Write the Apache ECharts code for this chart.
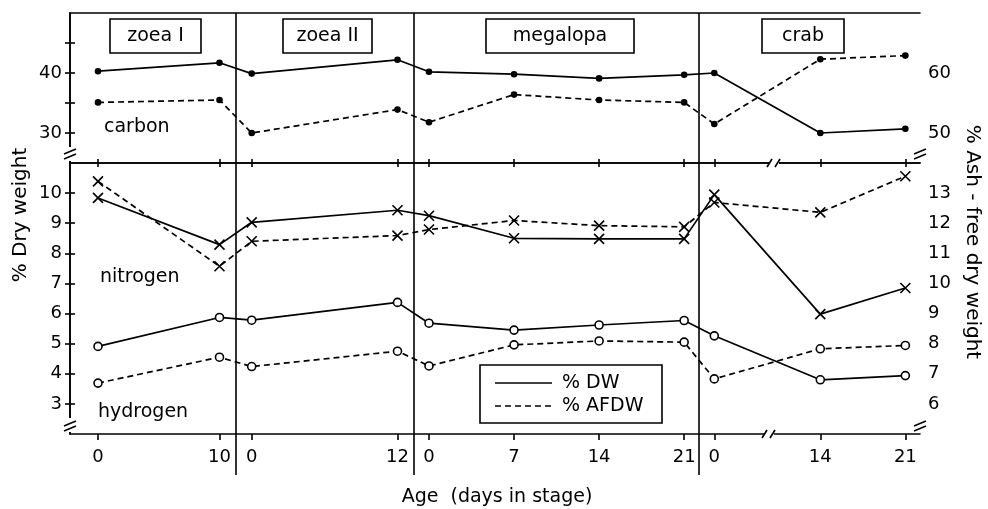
<!DOCTYPE html>
<html><head><meta charset="utf-8">
<script src="https://cdn.jsdelivr.net/npm/echarts@6/dist/echarts.min.js"></script>
<style>html,body{margin:0;padding:0;background:#fff}#c{width:988px;height:509px}</style>
</head><body><div id="c"></div>
<script>
// ---- data ----
const stages = ['zoea I', 'zoea II', 'megalopa', 'crab'];
const stageDays = [[0, 10], [0, 12], [0, 7, 14, 21], [0, 14, 21]];
const carbonDW = [40.3, 41.7, 39.9, 42.2, 40.2, 39.8, 39.1, 39.7, 40.0, 30.0, 30.7];
const carbonAFDW = [55.1, 55.5, 50.0, 53.9, 51.8, 56.4, 55.5, 55.1, 51.5, 62.3, 62.9];
const nitrogenDW = [9.84, 8.29, 9.03, 9.43, 9.25, 8.50, 8.48, 8.48, 9.95, 5.98, 6.85];
const nitrogenAFDW = [13.39, 10.57, 11.40, 11.59, 11.79, 12.09, 11.92, 11.88, 12.69, 12.36, 13.56];
const hydrogenDW = [4.91, 5.87, 5.78, 6.37, 5.68, 5.45, 5.62, 5.77, 5.26, 3.80, 3.94];
const hydrogenAFDW = [6.69, 7.55, 7.24, 7.75, 7.26, 7.96, 8.09, 8.05, 6.83, 7.83, 7.94];
const carbonDWTicks = [30, 40];
const carbonDWMinor = [30, 35, 40, 45];
const carbonAFDWTicks = [50, 60];
const carbonAFDWMinor = [50, 55, 60, 65];
const lowerDWTicks = [3, 4, 5, 6, 7, 8, 9, 10];
const lowerAFDWTicks = [6, 7, 8, 9, 10, 11, 12, 13];
const xTitle = 'Age  (days in stage)';
const leftTitle = '% Dry weight';
const rightTitle = '% Ash - free dry weight';
const legendNames = ['% DW', '% AFDW'];
const panelNames = ['carbon', 'nitrogen', 'hydrogen'];

// ---- x-axis layout (broken, staged axis) ----
const X_MAX = 850;
const stageStart = [28, 181.7, 359, 644.3];
const PX_PER_DAY = 12.15;
const CRAB_BREAK = { stage: 3, day: 14, len: 106 };
const dividers = [166, 344, 629];
const boxCenters = [85.5, 257.5, 490, 733];
const boxWidths = [91, 89, 148, 82];
function pos(s, d) {
  if (s === CRAB_BREAK.stage && d >= CRAB_BREAK.day) return stageStart[s] + CRAB_BREAK.len + (d - CRAB_BREAK.day) * PX_PER_DAY;
  return stageStart[s] + d * PX_PER_DAY;
}
const xs = [];
const xLabels = [];
stageDays.forEach((days, s) => days.forEach(d => { xs.push(pos(s, d)); xLabels.push(String(d)); }));
const pts = arr => xs.map((x, i) => [x, arr[i]]);

const FONT = '"DejaVu Sans", sans-serif';
const BLK = '#000';
const LW = 1.6;
const axisLine = { show: true, lineStyle: { color: BLK, width: LW } };

function yAx(grid, posn, min, max, ticks, labels) {
  return {
    type: 'value', gridIndex: grid, position: posn, min: min, max: max,
    axisLine: axisLine,
    axisTick: { show: true, length: 5, lineStyle: { color: BLK, width: LW }, customValues: ticks },
    axisLabel: { color: BLK, fontSize: 18, fontFamily: FONT, margin: 8, customValues: labels },
    splitLine: { show: false }
  };
}
const xBase = { type: 'value', min: 0, max: X_MAX, splitLine: { show: false } };

const xSym = 'path://M0,0L10,10M10,0L0,10';
function ser(name, data, xi, yi, dashed, symbol, size, fill) {
  return {
    type: 'line', name: name, data: data, xAxisIndex: xi, yAxisIndex: yi,
    symbol: symbol, symbolSize: size, showSymbol: true, showAllSymbol: true,
    lineStyle: { color: BLK, width: 1.7, type: dashed ? [6, 4] : 'solid' },
    itemStyle: { color: fill, borderColor: BLK, borderWidth: 1.6 },
    emphasis: { disabled: true }, z: 3
  };
}

const chart = echarts.init(document.getElementById('c'), null, { renderer: 'canvas' });
chart.setOption({
  animation: false,
  backgroundColor: '#fff',
  grid: [
    { left: 70, right: 68, top: 13, height: 150 },
    { left: 70, right: 68, top: 163, height: 271 }
  ],
  xAxis: [
    Object.assign({}, xBase, { gridIndex: 0, position: 'bottom', axisLine: axisLine,
      axisTick: { show: true, inside: true, length: 4, lineStyle: { color: BLK, width: LW }, customValues: xs },
      axisLabel: { show: false } }),
    Object.assign({}, xBase, { gridIndex: 0, position: 'top', axisLine: axisLine,
      axisTick: { show: false }, axisLabel: { show: false } }),
    Object.assign({}, xBase, { gridIndex: 1, position: 'bottom', axisLine: axisLine,
      axisTick: { show: true, length: 6, lineStyle: { color: BLK, width: LW }, customValues: xs },
      axisLabel: { color: BLK, fontSize: 18, fontFamily: FONT, margin: 14, customValues: xs,
        formatter: v => { const i = xs.findIndex(x => Math.abs(x - v) < 0.01); return i >= 0 ? xLabels[i] : ''; } } }),
    Object.assign({}, xBase, { gridIndex: 1, position: 'top', axisLine: axisLine,
      axisTick: { show: true, inside: true, length: 4, lineStyle: { color: BLK, width: LW }, customValues: xs },
      axisLabel: { show: false } })
  ],
  yAxis: [
    yAx(0, 'left', 25, 50, carbonDWMinor, carbonDWTicks),
    yAx(0, 'right', 45, 70, carbonAFDWMinor, carbonAFDWTicks),
    yAx(1, 'left', 2, 11, lowerDWTicks, lowerDWTicks),
    yAx(1, 'right', 5, 14, lowerAFDWTicks, lowerAFDWTicks)
  ],
  series: [
    ser('carbon DW', pts(carbonDW), 0, 0, false, 'circle', 5, BLK),
    ser('carbon AFDW', pts(carbonAFDW), 0, 1, true, 'circle', 5, BLK),
    ser('nitrogen DW', pts(nitrogenDW), 2, 2, false, xSym, 10, 'rgba(0,0,0,0)'),
    ser('nitrogen AFDW', pts(nitrogenAFDW), 2, 3, true, xSym, 10, 'rgba(0,0,0,0)'),
    ser('hydrogen DW', pts(hydrogenDW), 2, 2, false, 'circle', 8, '#fff'),
    ser('hydrogen AFDW', pts(hydrogenAFDW), 2, 3, true, 'circle', 8, '#fff')
  ]
});

// ---- decorations computed from the axes ----
const px = v => chart.convertToPixel({ xAxisIndex: 2 }, v);
const g = [];
const line = (x1, y1, x2, y2, w) => g.push({ type: 'line', z: 20, shape: { x1, y1, x2, y2 }, style: { stroke: BLK, lineWidth: w || LW } });
const white = (x, y, w, h) => g.push({ type: 'rect', z: 19, shape: { x, y, width: w, height: h }, style: { fill: '#fff' } });
const text = (t, x, y, size, align, rot) => g.push({ type: 'text', z: 21, x, y, rotation: rot || 0,
  style: { text: t, font: size + 'px ' + FONT, fill: BLK, align: align || 'left', verticalAlign: 'middle' } });

// stage dividers
dividers.forEach(d => { const x = px(d); line(x, 13, x, 475); });
// stage boxes
stages.forEach((s, i) => {
  const cx = px(boxCenters[i]);
  g.push({ type: 'rect', z: 20, shape: { x: cx - boxWidths[i] / 2, y: 19, width: boxWidths[i], height: 34 }, style: { fill: '#fff', stroke: BLK, lineWidth: LW } });
  text(s, cx, 36, 19, 'center');
});
// panel labels
text(panelNames[0], 104, 127, 19);
text(panelNames[1], 100, 277, 19);
text(panelNames[2], 98, 412, 19);
// legend
g.push({ type: 'rect', z: 20, shape: { x: 480, y: 365, width: 182, height: 58 }, style: { fill: '#fff', stroke: BLK, lineWidth: LW } });
line(495, 383, 552, 383);
g.push({ type: 'line', z: 21, shape: { x1: 495, y1: 406, x2: 552, y2: 406 }, style: { stroke: BLK, lineWidth: LW, lineDash: [6, 4] } });
text(legendNames[0], 562, 383, 19);
text(legendNames[1], 562, 406, 19);
// axis titles
text(xTitle, 497, 497, 19, 'center');
text(leftTitle, 21, 215, 20, 'center', Math.PI / 2);
text(rightTitle, 972, 242, 20, 'center', -Math.PI / 2);
// vertical axis breaks
[[70, 147, 153], [920, 147, 153], [70, 418, 425], [920, 418, 425]].forEach(([x, y0, y]) => {
  white(x - 6, y0, 12, 14);
  line(x - 6, y + 1, x + 6, y - 4);
  line(x - 6, y + 6, x + 6, y + 1);
});
// horizontal axis breaks (crab 0-14)
[[px(704), 163], [px(699), 434]].forEach(([x, y]) => {
  white(x - 5, y - 2, 10, 4);
  line(x - 7, y + 4, x - 2, y - 4);
  line(x + 1, y + 4, x + 6, y - 4);
});
chart.setOption({ graphic: g });
</script>
</body></html>
